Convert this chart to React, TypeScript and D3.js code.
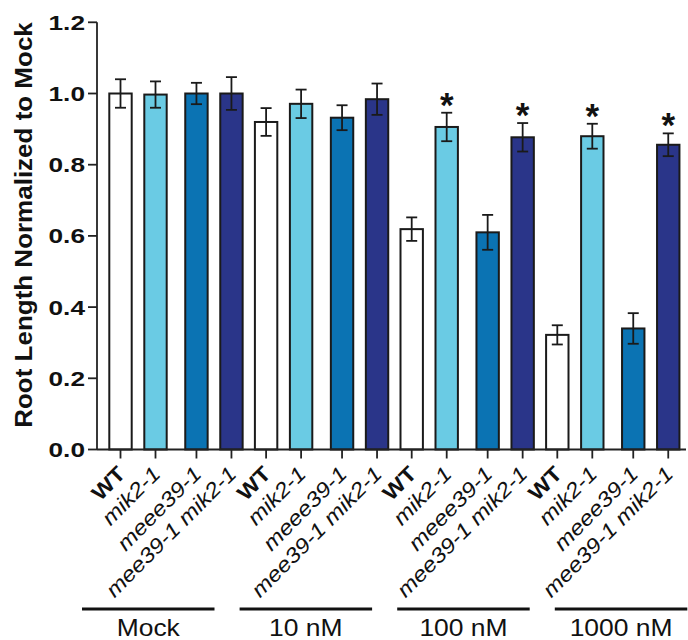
import React from "react";
import * as d3 from "d3";

const groups = ["Mock", "10 nM", "100 nM", "1000 nM"];
const genotypes = ["WT", "mik2-1", "meee39-1", "mee39-1 mik2-1"];
const genotypeColors = ["#ffffff", "#6ACBE4", "#0B73B3", "#2A3589"];
const means = [
  [1.0, 0.997, 1.0, 1.0],
  [0.92, 0.971, 0.932, 0.984],
  [0.619, 0.906, 0.61, 0.877],
  [0.322, 0.88, 0.34, 0.856],
];
const errors = [
  [0.04, 0.037, 0.03, 0.046],
  [0.039, 0.04, 0.035, 0.044],
  [0.033, 0.04, 0.049, 0.04],
  [0.027, 0.035, 0.043, 0.032],
];
const significant = [
  [false, false, false, false],
  [false, false, false, false],
  [false, true, false, true],
  [false, true, false, true],
];
const yTicks = [0, 0.2, 0.4, 0.6, 0.8, 1.0, 1.2];
const yTitle = "Root Length Normalized to Mock";

const FONT = "'Liberation Sans', Arial, Helvetica, sans-serif";

export default function App() {
  const W = 688;
  const H = 640;
  const axisX = 97;
  const y = d3.scaleLinear().domain([0, 1.2]).range([449.5, 22.3]);
  const slot = d3.scaleLinear().domain([0, 1]).range([120.5, 155.5]);
  const subOffset = [0, 1, 2.17, 3.17];
  const groupStep = 4.16;
  const cx = (g: number, i: number) => slot(g * groupStep + subOffset[i]);
  const barW = 22.4;
  const capW = 11;
  const lineScale = d3.scaleLinear().domain([0, 1]).range([82, 239.6]);
  const lineW = 132.5;
  const fmt = d3.format(".1f");
  const y0 = y(0);

  const bars: any[] = [];
  groups.forEach((gName, g) => {
    genotypes.forEach((gen, i) => {
      const v = means[g][i];
      const e = errors[g][i];
      const x = cx(g, i);
      bars.push(
        <g key={`b${g}-${i}`}>
          <rect
            x={x - barW / 2}
            y={y(v)}
            width={barW}
            height={y0 - y(v)}
            fill={genotypeColors[i]}
            stroke="#1a1a1a"
            strokeWidth={2}
          />
          <line x1={x} x2={x} y1={y(v + e)} y2={y(v - e)} stroke="#1a1a1a" strokeWidth={1.8} />
          <line x1={x - capW / 2} x2={x + capW / 2} y1={y(v + e)} y2={y(v + e)} stroke="#1a1a1a" strokeWidth={1.8} />
          <line x1={x - capW / 2} x2={x + capW / 2} y1={y(v - e)} y2={y(v - e)} stroke="#1a1a1a" strokeWidth={1.8} />
          {significant[g][i] && (
            <text
              x={x}
              y={y(v + e) + 4}
              textAnchor="middle"
              fontFamily={FONT}
              fontWeight="bold"
              fontSize={35}
              fill="#111"
            >
              *
            </text>
          )}
          <line x1={x} x2={x} y1={y0} y2={y0 + 9} stroke="#222" strokeWidth={1.8} />
          <text
            transform={`translate(${x + 1},${470}) rotate(-45) scale(1.15,1)`}
            textAnchor="end"
            dy="0.35em"
            fontFamily={FONT}
            fontSize={21}
            fontStyle={i === 0 ? "normal" : "italic"}
            fontWeight={i === 0 ? "bold" : "normal"}
            fill="#111"
          >
            {gen}
          </text>
        </g>
      );
    });
  });

  return (
    <svg
      width={W}
      height={H}
      style={{ position: "absolute", left: 0, top: 0, background: "#fff" }}
    >
      <rect x={0} y={0} width={W} height={H} fill="#fff" />
      <line x1={axisX} x2={axisX} y1={y(1.2)} y2={y0} stroke="#222" strokeWidth={1.8} />
      {yTicks.map((t) => (
        <g key={`t${t}`}>
          <line x1={axisX - 9} x2={axisX} y1={y(t)} y2={y(t)} stroke="#222" strokeWidth={1.8} />
          <text
            transform={`translate(85,${y(t)}) scale(1.25,1)`}
            textAnchor="end"
            dy="0.36em"
            fontFamily={FONT}
            fontWeight="bold"
            fontSize={21}
            fill="#111"
          >
            {fmt(t)}
          </text>
        </g>
      ))}
      <text
        transform={`translate(31.7,225) rotate(-90) scale(1.13,1)`}
        textAnchor="middle"
        fontFamily={FONT}
        fontWeight="bold"
        fontSize={23}
        fill="#111"
      >
        {yTitle}
      </text>
      {bars}
      <line x1={axisX} x2={686} y1={y0} y2={y0} stroke="#222" strokeWidth={1.8} />
      {groups.map((gName, g) => {
        const x1 = lineScale(g);
        return (
          <g key={`grp${g}`}>
            <line x1={x1} x2={x1 + lineW} y1={609} y2={609} stroke="#111" strokeWidth={3} />
            <text
              transform={`translate(${x1 + lineW / 2},636) scale(1.15,1)`}
              textAnchor="middle"
              fontFamily={FONT}
              fontSize={23}
              fill="#111"
            >
              {gName}
            </text>
          </g>
        );
      })}
    </svg>
  );
}
